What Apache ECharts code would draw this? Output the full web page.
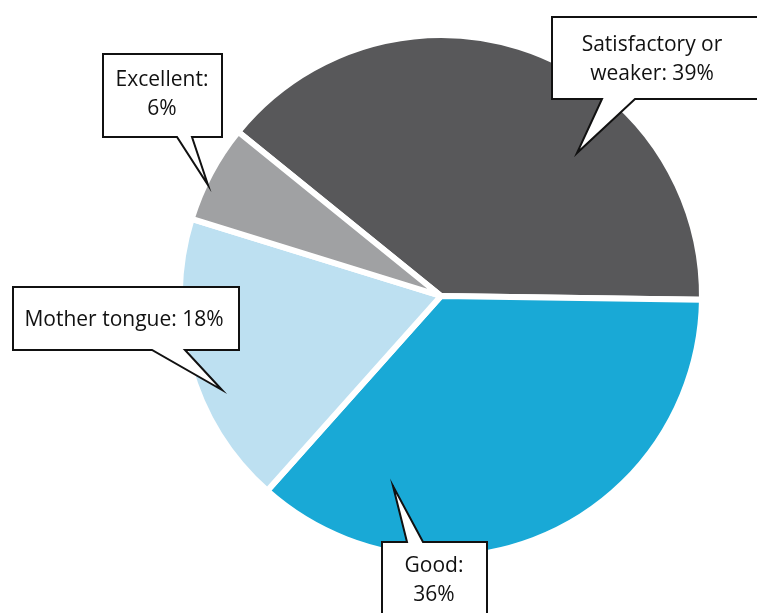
<!DOCTYPE html>
<html>
<head>
<meta charset="utf-8">
<script src="https://cdn.jsdelivr.net/npm/echarts@6/dist/echarts.min.js"></script>
<style>
html,body{margin:0;padding:0;background:#fff;}
#chart{width:757px;height:613px;}
</style>
</head>
<body>
<div id="chart"></div>
<script>
// ---- data ----
var categories = ['Satisfactory or weaker', 'Good', 'Mother tongue', 'Excellent'];
var values = [39, 36, 18, 6];
var colors = ['#58585a', '#19a9d6', '#bde0f1', '#a0a1a3'];
// label text formatting (how each label is wrapped)
var labelHeads = ['Satisfactory or\nweaker', 'Good', 'Mother tongue', 'Excellent'];
var labelSeps = [': ', ':\n', ': ', ':\n'];

// ---- callout layout (box + tail) ----
var callouts = [
  {box: [552, 17, 765, 99], tail: {side: 'bottom', a: 602, b: 635, tip: [577, 153]}, text: [652, 60]},
  {box: [382, 542, 487, 620], tail: {side: 'top', a: 407, b: 423, tip: [393, 486]}, text: [434, 581]},
  {box: [13, 287, 239, 350], tail: {side: 'bottom', a: 152, b: 185, tip: [222, 390]}, text: [124, 320]},
  {box: [103, 54, 222, 137], tail: {side: 'bottom', a: 177, b: 192, tip: [208, 185]}, text: [162, 95]}
];

function calloutPoints(c) {
  var x0 = c.box[0], y0 = c.box[1], x1 = c.box[2], y1 = c.box[3];
  var t = c.tail;
  if (t.side === 'bottom') {
    return [[x0, y0], [x1, y0], [x1, y1], [t.b, y1], t.tip, [t.a, y1], [x0, y1]];
  } else {
    return [[x0, y0], [t.a, y0], t.tip, [t.b, y0], [x1, y0], [x1, y1], [x0, y1]];
  }
}

var chart = echarts.init(document.getElementById('chart'), null, {renderer: 'canvas'});

var pieData = categories.map(function (c, i) {
  return {name: c, value: values[i], itemStyle: {color: colors[i], borderColor: '#ffffff', borderWidth: 6}};
});

var graphics = [];
callouts.forEach(function (c, i) {
  graphics.push({
    type: 'polygon',
    z: 100,
    shape: {points: calloutPoints(c)},
    style: {fill: '#ffffff', stroke: '#111111', lineWidth: 2, lineJoin: 'miter'}
  });
  graphics.push({
    type: 'text',
    z: 101,
    x: c.text[0],
    y: c.text[1],
    style: {
      text: labelHeads[i] + labelSeps[i] + values[i] + '%',
      fill: '#111111',
      font: '21px "Open Sans", sans-serif',
      lineHeight: 29,
      align: 'center',
      verticalAlign: 'middle'
    }
  });
});

chart.setOption({
  animation: false,
  backgroundColor: '#ffffff',
  series: [{
    type: 'pie',
    center: [441, 296],
    radius: 261,
    startAngle: 141,
    clockwise: true,
    label: {show: false},
    labelLine: {show: false},
    emphasis: {disabled: true},
    data: pieData
  }],
  graphic: graphics
});
</script>
</body>
</html>
